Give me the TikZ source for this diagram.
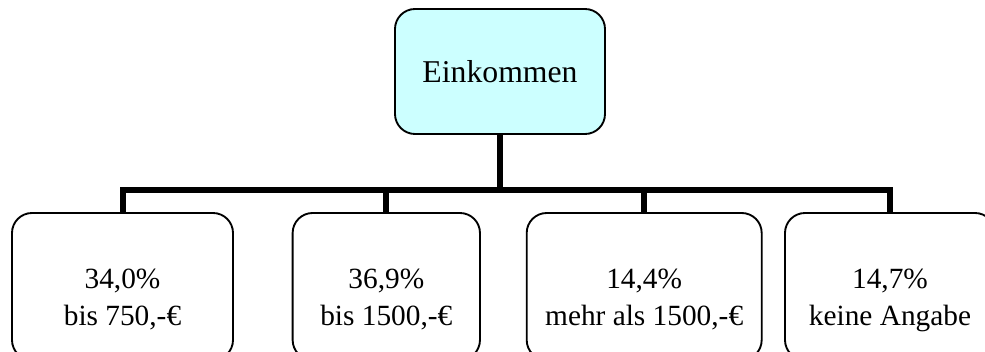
\documentclass[tikz,border=0pt]{standalone}
\usepackage{fontspec}
\setmainfont{Liberation Serif}
\begin{document}
\begin{tikzpicture}[x=0.75pt,y=-0.75pt,
  topbox/.style={draw=black,line width=1.4pt,rounded corners=15pt,fill=topcyan,
    minimum width=157.5pt,minimum height=93.75pt,inner sep=0pt,
    font=\fontsize{23.8}{28}\selectfont},
  leafbox/.style={draw=black,line width=1.4pt,rounded corners=15pt,fill=white,
    minimum height=110.25pt,inner sep=0pt},
  leaftext/.style={align=center,inner sep=0pt,font=\fontsize{22}{27.75}\selectfont},
  conn/.style={line width=4.5pt,draw=black}]
\definecolor{topcyan}{HTML}{CCFFFF}
\useasboundingbox (0,0) rectangle (985,352);
\clip (0,0) rectangle (985,352);
\node[topbox] (top) at (500,71.5) {Einkommen};
\node[leafbox,minimum width=165.75pt] (b1) at (122.5,286.5) {};
\node[leafbox,minimum width=140.5pt] (b2) at (386.3,286.5) {};
\node[leafbox,minimum width=176.25pt] (b3) at (644.2,286.5) {};
\node[leafbox,minimum width=157.5pt] (b4) at (890,286.5) {};
\node[leaftext] (t1) at (122.5,300) {34,0\%\\bis 750,-€};
\node[leaftext] (t2) at (386.3,300) {36,9\%\\bis 1500,-€};
\node[leaftext] (t3) at (644.2,300) {14,4\%\\mehr als 1500,-€};
\node[leaftext] (t4) at (890,300) {14,7\%\\keine Angabe};
\coordinate (bar) at (500,190.5);
\draw[conn] (top.south) -- (bar);
\draw[conn] (b1.north) |- (bar) -| (b4.north);
\draw[conn] (b2.north) -- (b2.north |- bar);
\draw[conn] (b3.north) -- (b3.north |- bar);
\end{tikzpicture}
\end{document}
